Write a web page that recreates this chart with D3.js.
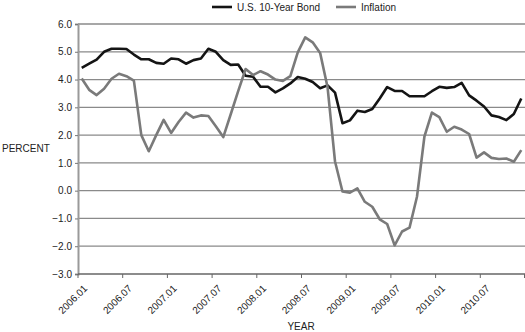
<!DOCTYPE html>
<html>
<head>
<meta charset="utf-8">
<script src="https://cdn.jsdelivr.net/npm/d3@7"></script>
<style>
  html, body { margin: 0; padding: 0; background: #fff; }
  svg { display: block; font-family: Arial, "Liberation Sans", Helvetica, sans-serif; }
</style>
</head>
<body>
<svg id="chart" width="525" height="332"></svg>
<script>
// Monthly observations, January 2006 through December 2010
const years = [2006, 2007, 2008, 2009, 2010];
const months = years.flatMap(y => d3.range(1, 13).map(m => `${y}.${String(m).padStart(2, "0")}`));

// U.S. 10-year Treasury yield, percent
const bondYield = [
  4.42, 4.57, 4.72, 5.00, 5.11, 5.11, 5.10, 4.90, 4.73, 4.73, 4.60, 4.57,
  4.76, 4.73, 4.57, 4.70, 4.76, 5.11, 5.00, 4.70, 4.53, 4.54, 4.14, 4.10,
  3.74, 3.74, 3.54, 3.68, 3.86, 4.09, 4.03, 3.91, 3.69, 3.79, 3.53, 2.43,
  2.53, 2.88, 2.83, 2.94, 3.32, 3.73, 3.59, 3.59, 3.40, 3.40, 3.40, 3.58,
  3.74, 3.70, 3.73, 3.88, 3.43, 3.24, 3.03, 2.71, 2.65, 2.54, 2.76, 3.32
];

// Consumer price inflation, percent change from a year earlier
const inflation = [
  4.04, 3.63, 3.44, 3.67, 4.03, 4.21, 4.12, 3.96, 2.00, 1.42, 2.00, 2.55,
  2.08, 2.47, 2.81, 2.63, 2.71, 2.69, 2.32, 1.93, 2.75, 3.58, 4.38, 4.16,
  4.30, 4.18, 4.00, 3.95, 4.12, 4.98, 5.52, 5.34, 4.96, 3.72, 1.05, -0.03,
  -0.07, 0.08, -0.40, -0.58, -1.03, -1.20, -1.97, -1.47, -1.33, -0.22, 1.95, 2.81,
  2.65, 2.12, 2.30, 2.20, 2.04, 1.19, 1.38, 1.18, 1.14, 1.16, 1.04, 1.46
];

const yTicks = [-3, -2, -1, 0, 1, 2, 3, 4, 5, 6];
const xTickLabels = months.filter((m, i) => i % 6 === 0);

const seriesNames = ["U.S. 10-Year Bond", "Inflation"];
const seriesColors = ["#141414", "#7a7a7a"];

const svg = d3.select("#chart");
const plot = { left: 78, right: 525, top: 24, bottom: 274 };

const x = d3.scaleBand().domain(months).range([plot.left, plot.right]).paddingInner(0).paddingOuter(0);
const y = d3.scaleLinear().domain([-3, 6]).range([plot.bottom, plot.top]);
const cx = m => x(m) + x.bandwidth() / 2;

// Horizontal gridlines
svg.append("g")
  .selectAll("line")
  .data(yTicks.filter(t => t !== -3))
  .join("line")
  .attr("x1", plot.left).attr("x2", plot.right)
  .attr("y1", d => y(d)).attr("y2", d => y(d))
  .attr("stroke", "#8a8a8a")
  .attr("stroke-width", 1.3);

// Y axis
const yAxis = d3.axisLeft(y).tickValues(yTicks).tickFormat(d => d3.format(".1f")(d).replace("-", "\u2212")).tickSize(3).tickPadding(3);
const gy = svg.append("g").attr("transform", `translate(${plot.left},0)`).call(yAxis);
gy.select(".domain").attr("stroke", "#9a9a9a").attr("stroke-width", 2);
gy.selectAll(".tick line").attr("stroke", "#777");
gy.selectAll("text").attr("font-size", 10).attr("fill", "#222")
  .attr("font-family", "Arial, 'Liberation Sans', sans-serif");

// X axis: ticks at the start of every sixth month, plus the closing edge
const gx = svg.append("g");
gx.append("line")
  .attr("x1", plot.left).attr("x2", plot.right)
  .attr("y1", plot.bottom).attr("y2", plot.bottom)
  .attr("stroke", "#666").attr("stroke-width", 1.3);
const tickPositions = xTickLabels.map(m => x(m)).concat([plot.right - 0.5]);
gx.selectAll("line.tick")
  .data(tickPositions)
  .join("line")
  .attr("class", "tick")
  .attr("x1", d => d).attr("x2", d => d)
  .attr("y1", plot.bottom).attr("y2", plot.bottom + 4)
  .attr("stroke", "#666").attr("stroke-width", 1);
gx.selectAll("text")
  .data(xTickLabels)
  .join("text")
  .attr("transform", m => `translate(${x(m) + 5},${plot.bottom + 10}) rotate(-45)`)
  .attr("text-anchor", "end")
  .attr("dy", "0.71em")
  .attr("font-size", 10)
  .attr("fill", "#222")
  .text(m => m);

// Axis titles
svg.append("text").attr("x", 2).attr("y", 151.5).attr("font-size", 10).attr("fill", "#222").text("PERCENT");
svg.append("text").attr("x", 301).attr("y", 330).attr("text-anchor", "middle").attr("font-size", 10).attr("fill", "#222").text("YEAR");

// Series lines
const line = d3.line().x((d, i) => cx(months[i])).y(d => y(d));
[bondYield, inflation].forEach((vals, k) => {
  svg.append("path")
    .datum(vals)
    .attr("fill", "none")
    .attr("stroke", seriesColors[k])
    .attr("stroke-width", 2.6)
    .attr("stroke-linejoin", "round")
    .attr("d", line);
});

// Legend
const legendItems = [
  { name: seriesNames[0], color: seriesColors[0], x: 212 },
  { name: seriesNames[1], color: seriesColors[1], x: 336 }
];
const lg = svg.append("g").selectAll("g").data(legendItems).join("g")
  .attr("transform", d => `translate(${d.x},7)`);
lg.append("line").attr("x1", 0).attr("x2", 20).attr("y1", 0).attr("y2", 0)
  .attr("stroke", d => d.color).attr("stroke-width", 2.6);
lg.append("text").attr("x", 25).attr("y", 3.5).attr("font-size", 10).attr("fill", "#222").text(d => d.name);
</script>
</body>
</html>
